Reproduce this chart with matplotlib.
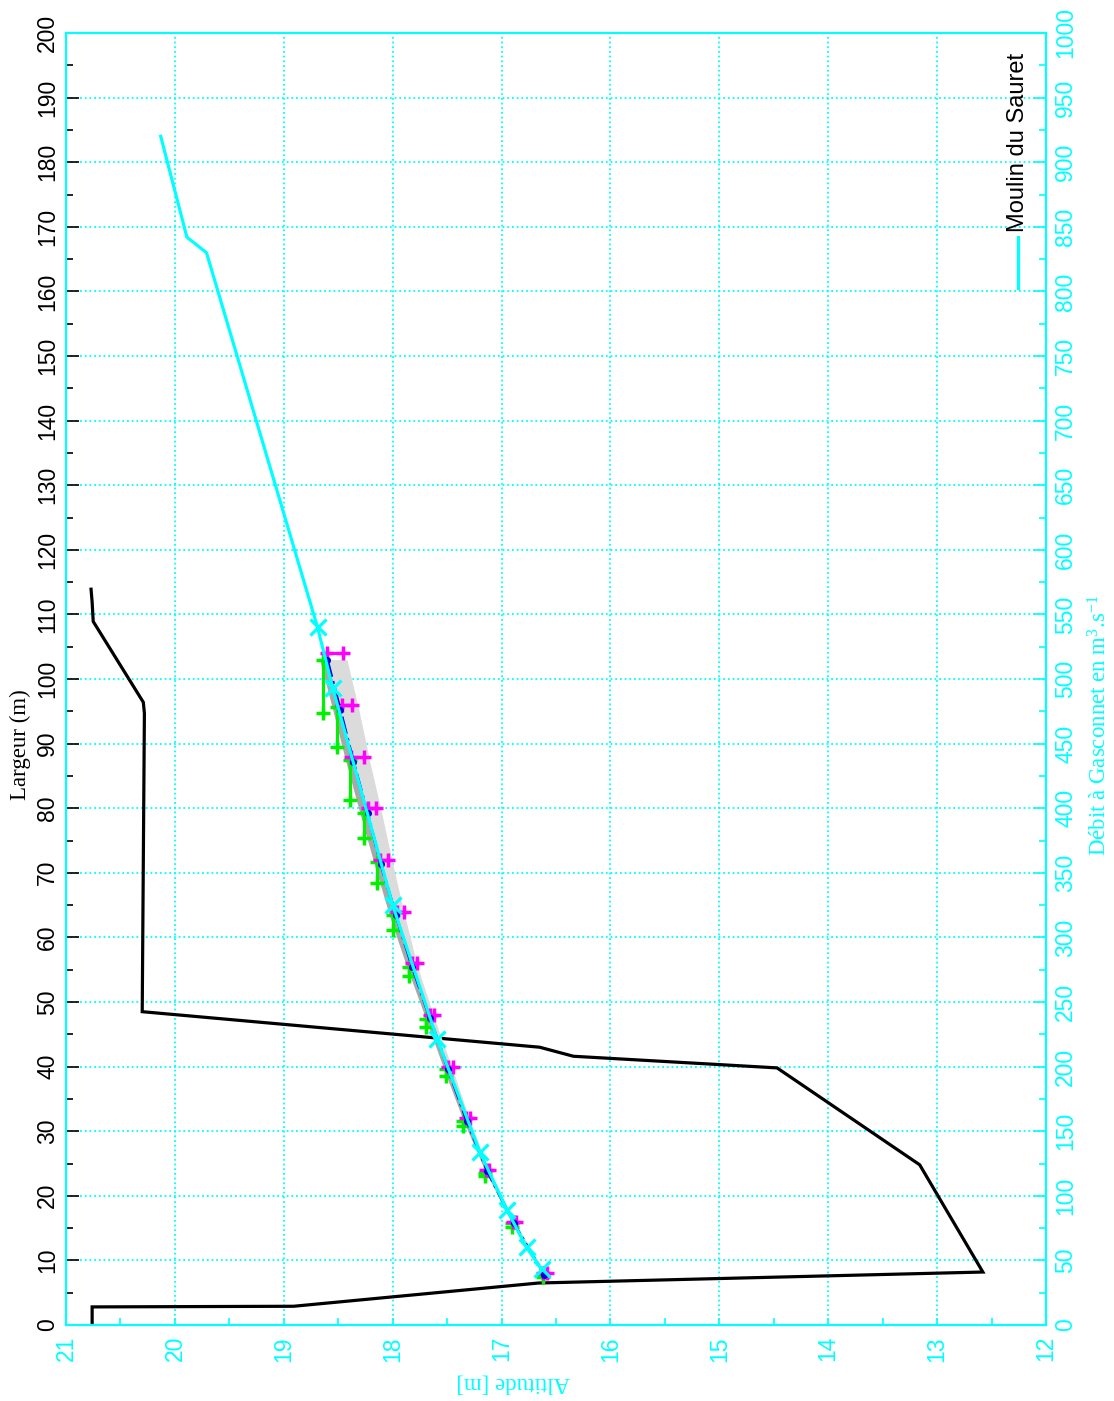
import matplotlib
matplotlib.use('Agg')
import matplotlib.pyplot as plt
from matplotlib.lines import Line2D
from matplotlib.ticker import MultipleLocator

plt.rcParams['font.family'] = ['Liberation Sans', 'DejaVu Sans']
plt.rcParams['mathtext.fontset'] = 'custom'
plt.rcParams['mathtext.rm'] = 'Liberation Serif'
plt.rcParams['mathtext.it'] = 'Liberation Serif'

# profil en travers : altitude (m) / largeur (m)
profil_alt = [20.77, 20.76, 20.75, 20.29, 20.28, 20.30, 16.65, 16.34, 14.47,
              13.16, 12.58, 16.66, 18.91, 20.76, 20.76]
profil_larg = [113.9, 111.9, 108.9, 96.4, 94.7, 48.5, 43.0, 41.6, 39.8,
               24.8, 8.2, 6.5, 2.9, 2.8, 0.0]

# courbe de tarage Moulin du Sauret : altitude (m) / debit (m3/s)
tarage_alt = [20.13, 19.89, 19.71, 18.69, 18.55, 18.00, 17.59, 17.20, 16.95, 16.77, 16.63]
tarage_q = [920, 842, 830, 540, 493, 325, 221, 134, 89, 60, 43]
n_sans_marque = 3

# jaugeages
jaug_q = [520, 480, 440, 400, 360, 320, 280, 240, 200, 160, 120, 80, 40]
jaug_alt = [18.53, 18.42, 18.32, 18.19, 18.08, 17.93, 17.80, 17.64, 17.47, 17.31, 17.13, 16.88, 16.60]
jaug_dalt = [0.075, 0.045, 0.06, 0.04, 0.035, 0.03, 0.025, 0.02, 0.02, 0.02, 0.015, 0.015, 0.015]

# jaugeages (incertitude sur le debit)
vert_alt = [18.64, 18.51, 18.39, 18.26, 18.14, 18.00, 17.85, 17.69, 17.51, 17.35, 17.15, 16.90, 16.62]
vert_qhaut = [515, 478, 437, 396, 358, 317, 277, 237, 198, 158, 118, 79, 39]
vert_qbas = [474, 447, 406, 377, 342, 306, 270, 231, 193, 154, 115, 76, 37]

# courbe ajustee et enveloppe
ajust_alt = [18.60, 18.48, 18.36, 18.23, 18.11, 17.97, 17.82, 17.66, 17.49, 17.32, 17.13, 16.89, 16.61]
ajust_q = [515, 476, 436, 396, 357, 317, 277, 238, 198, 158, 119, 79, 39]
env_haut = [18.67, 18.55, 18.43, 18.30, 18.17, 18.03, 17.87, 17.70, 17.53, 17.35, 17.15, 16.90, 16.62]
env_bas = [18.42, 18.31, 18.21, 18.10, 18.00, 17.89, 17.77, 17.62, 17.45, 17.29, 17.11, 16.87, 16.59]

CYAN = (0, 1, 1)

fig = plt.figure(figsize=(11.14, 14.01), dpi=100)
ax = fig.add_axes([66 / 1114, 76 / 1401, 980 / 1114, 1292 / 1401])
ax.set_xlim(21, 12)
ax.set_ylim(0, 200)
ax2 = ax.twinx()
ax2.set_ylim(0, 1000)

ax.plot(profil_alt, profil_larg, color='k', lw=2.3, solid_joinstyle='miter')

ax2.fill_betweenx(ajust_q, env_haut, ajust_alt, color='0.66', lw=0)
ax2.fill_betweenx(ajust_q, ajust_alt, env_bas, color='0.86', lw=0)
for a, q1, q2 in zip(vert_alt, vert_qhaut, vert_qbas):
    ax2.plot([a, a], [q1, q2], color=(0, 0.95, 0), lw=2.2, marker='+', ms=10, mew=2.5)
for a, da, q in zip(jaug_alt, jaug_dalt, jaug_q):
    ax2.plot([a - da, a + da], [q, q], color=(1, 0, 1), lw=2.2, marker='+', ms=10, mew=2.5)
ax2.plot(ajust_alt, ajust_q, color=(0, 0, 0.85), lw=2, ls='-.', marker='.', ms=8)
ax2.plot(tarage_alt, tarage_q, color=CYAN, lw=2.3)
ax2.plot(tarage_alt[n_sans_marque:], tarage_q[n_sans_marque:], ls='none',
         marker='x', ms=11, mew=2.3, color=CYAN)

# axes et graduations
ax.xaxis.set_major_locator(MultipleLocator(1))
ax.xaxis.set_minor_locator(MultipleLocator(0.5))
ax.yaxis.set_major_locator(MultipleLocator(10))
ax.yaxis.set_minor_locator(MultipleLocator(5))
ax2.yaxis.set_major_locator(MultipleLocator(50))
ax2.yaxis.set_minor_locator(MultipleLocator(25))

ax.grid(True, which='major', color=CYAN, ls=(0, (1, 1.6)), lw=1.3)
ax.set_axisbelow(True)

ax.tick_params(axis='y', which='both', direction='in', color='k', labelcolor='k',
               labelrotation=90, labelsize=16.5, pad=5, width=1.2)
ax.tick_params(axis='y', which='major', length=9)
ax.tick_params(axis='y', which='minor', length=5)
ax.tick_params(axis='x', which='both', direction='in', color=CYAN, labelcolor=CYAN,
               labelrotation=90, labelsize=16.5, pad=8, width=1.2, length=5)
ax2.tick_params(axis='y', which='both', direction='in', color=CYAN, labelcolor=CYAN,
                labelrotation=90, labelsize=16.5, pad=6, width=1.2)
ax2.tick_params(axis='y', which='major', length=9)
ax2.tick_params(axis='y', which='minor', length=5)
for lbl in ax.get_yticklabels() + ax2.get_yticklabels():
    lbl.set_va('center')

for axe in (ax, ax2):
    for sp in axe.spines.values():
        sp.set_color(CYAN)
        sp.set_linewidth(1.5)

# titres des axes
fig.text(20 / 1114, 1 - 745 / 1401, 'Largeur (m)', rotation=90, ha='center', va='center',
         family='Liberation Serif', fontsize=16.5, color='k')
fig.text(513 / 1114, 1 - 1383 / 1401, 'Altitude [m]', rotation=180, ha='center', va='center',
         family='Liberation Serif', fontsize=16.5, color=CYAN)
fig.text(1100 / 1114, 1 - 725 / 1401, r'Débit à Gasconnet en m$^{3}$.s$^{-1}$', rotation=90,
         ha='center', va='center', family='Liberation Serif', fontsize=16.5, color=CYAN)

# legende
fig.add_artist(Line2D([1018 / 1114, 1018 / 1114], [1 - 288 / 1401, 1 - 237 / 1401],
                      color=CYAN, lw=2.3))
fig.text(1018 / 1114, 1 - 232 / 1401, 'Moulin du Sauret', rotation=90, ha='center',
         va='bottom', fontsize=17, color='k')

fig.savefig('out.png', dpi=100)
